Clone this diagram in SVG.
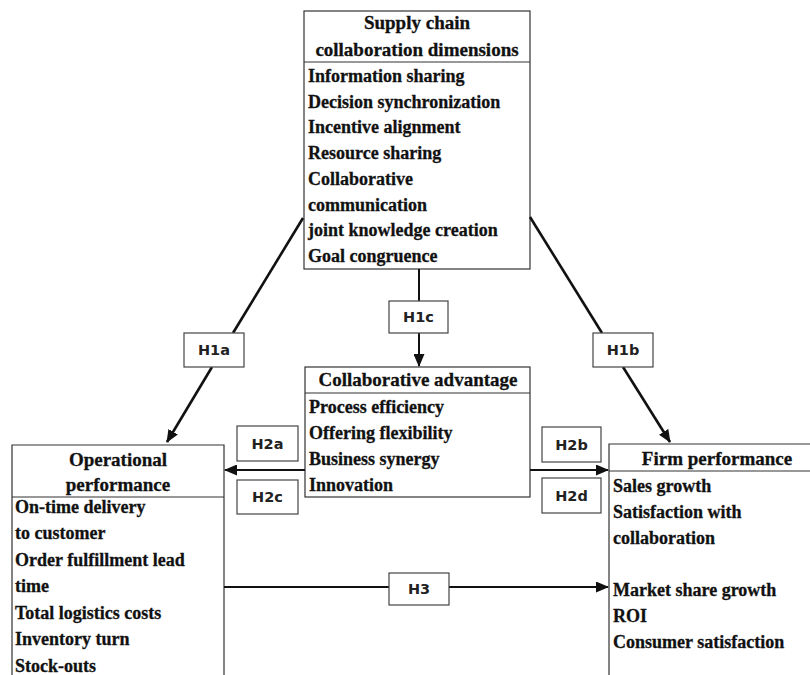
<svg xmlns="http://www.w3.org/2000/svg" width="810" height="675" viewBox="0 0 810 675">
  <style>
    .box { fill: #ffffff; stroke: #333333; stroke-width: 1.2; }
    .rule { stroke: #333333; stroke-width: 1.2; fill: none; }
    .head { font-family: "Liberation Serif", "Times New Roman", serif; font-weight: bold; font-size: 19px; fill: #111111; stroke: #111111; stroke-width: 0.3; text-anchor: middle; }
    .item { font-family: "Liberation Serif", "Times New Roman", serif; font-weight: bold; font-size: 18px; fill: #111111; stroke: #111111; stroke-width: 0.3; }
    .tag { fill: #ffffff; stroke: #444444; stroke-width: 1.2; }
    .tagtext { font-family: "DejaVu Sans", Verdana, sans-serif; font-weight: bold; font-size: 14.5px; fill: #222222; text-anchor: middle; }
    .link { stroke: #111111; stroke-width: 2.6; fill: none; }
    .hlink { stroke: #111111; stroke-width: 2; fill: none; }
  </style>
  <defs>
    <marker id="arrow" viewBox="0 0 13 11" refX="12" refY="5.5" markerWidth="13" markerHeight="11" markerUnits="userSpaceOnUse" orient="auto">
      <path d="M0,0 L13,5.5 L0,11 z" fill="#111111"/>
    </marker>
  </defs>

  <!-- Supply chain collaboration dimensions -->
  <g id="node-sc-dimensions">
    <rect class="box" x="304" y="11" width="226" height="258"/>
    <line class="rule" x1="304" y1="62" x2="530" y2="62"/>
    <text class="head" x="417" y="29">Supply chain</text>
    <text class="head" x="417" y="56">collaboration dimensions</text>
    <text class="item" x="308" y="82">Information sharing</text>
    <text class="item" x="308" y="107.7">Decision synchronization</text>
    <text class="item" x="308" y="133.4">Incentive alignment</text>
    <text class="item" x="308" y="159.1">Resource sharing</text>
    <text class="item" x="308" y="184.8">Collaborative</text>
    <text class="item" x="308" y="210.5">communication</text>
    <text class="item" x="308" y="236.2">joint knowledge creation</text>
    <text class="item" x="308" y="261.9">Goal congruence</text>
  </g>

  <!-- Collaborative advantage -->
  <g id="node-collab-advantage">
    <rect class="box" x="305" y="367" width="225" height="130"/>
    <line class="rule" x1="305" y1="393" x2="530" y2="393"/>
    <text class="head" x="418" y="386">Collaborative advantage</text>
    <text class="item" x="309" y="413">Process efficiency</text>
    <text class="item" x="309" y="439">Offering flexibility</text>
    <text class="item" x="309" y="465">Business synergy</text>
    <text class="item" x="309" y="491">Innovation</text>
  </g>

  <!-- Operational performance (open at the bottom) -->
  <g id="node-operational">
    <path class="rule" d="M12,676 L12,445 L224,445 L224,676"/>
    <line class="rule" x1="12" y1="497" x2="224" y2="497"/>
    <text class="head" x="118" y="466">Operational</text>
    <text class="head" x="118" y="491">performance</text>
    <text class="item" x="15" y="512.5">On-time delivery</text>
    <text class="item" x="15" y="539">to customer</text>
    <text class="item" x="15" y="565.5">Order fulfillment lead</text>
    <text class="item" x="15" y="592">time</text>
    <text class="item" x="15" y="618.5">Total logistics costs</text>
    <text class="item" x="15" y="645">Inventory turn</text>
    <text class="item" x="15" y="671.5">Stock-outs</text>
  </g>

  <!-- Firm performance (runs off the right and bottom edges) -->
  <g id="node-firm">
    <path class="rule" d="M609,676 L609,444 L811,444"/>
    <line class="rule" x1="609" y1="471" x2="811" y2="471"/>
    <text class="head" x="717" y="465">Firm performance</text>
    <text class="item" x="613" y="492">Sales growth</text>
    <text class="item" x="613" y="518">Satisfaction with</text>
    <text class="item" x="613" y="544">collaboration</text>
    <text class="item" x="613" y="596">Market share growth</text>
    <text class="item" x="613" y="622">ROI</text>
    <text class="item" x="613" y="648">Consumer satisfaction</text>
  </g>

  <!-- Hypothesis paths -->
  <g id="connectors">
    <line class="link" x1="303" y1="218" x2="233" y2="333"/>
    <line class="link" x1="212" y1="367" x2="167" y2="442" marker-end="url(#arrow)"/>

    <line class="link" x1="530" y1="217" x2="602" y2="333"/>
    <line class="link" x1="623" y1="367" x2="670" y2="442" marker-end="url(#arrow)"/>

    <line class="hlink" x1="419" y1="269" x2="419" y2="301"/>
    <line class="hlink" x1="419" y1="333" x2="419" y2="366" marker-end="url(#arrow)"/>

    <line class="hlink" x1="305" y1="470" x2="225" y2="470" marker-end="url(#arrow)"/>
    <line class="hlink" x1="530" y1="470" x2="608" y2="470" marker-end="url(#arrow)"/>

    <line class="hlink" x1="224" y1="587" x2="389" y2="587"/>
    <line class="hlink" x1="449" y1="587" x2="608" y2="587" marker-end="url(#arrow)"/>
  </g>

  <!-- Hypothesis labels -->
  <g id="label-H1a"><rect class="tag" x="184" y="333" width="60" height="34"/><text class="tagtext" x="214" y="355">H1a</text></g>
  <g id="label-H1b"><rect class="tag" x="593" y="333" width="60" height="34"/><text class="tagtext" x="623" y="355">H1b</text></g>
  <g id="label-H1c"><rect class="tag" x="389" y="301" width="59" height="32"/><text class="tagtext" x="418.5" y="322">H1c</text></g>
  <g id="label-H2a"><rect class="tag" x="237" y="426" width="61" height="35"/><text class="tagtext" x="267.5" y="448.5">H2a</text></g>
  <g id="label-H2c"><rect class="tag" x="237" y="480" width="61" height="34"/><text class="tagtext" x="267.5" y="502">H2c</text></g>
  <g id="label-H2b"><rect class="tag" x="542" y="427" width="59" height="35"/><text class="tagtext" x="571.5" y="449.5">H2b</text></g>
  <g id="label-H2d"><rect class="tag" x="542" y="478" width="59" height="35"/><text class="tagtext" x="571.5" y="500.5">H2d</text></g>
  <g id="label-H3"><rect class="tag" x="389" y="573" width="60" height="32"/><text class="tagtext" x="419" y="594">H3</text></g>
</svg>
